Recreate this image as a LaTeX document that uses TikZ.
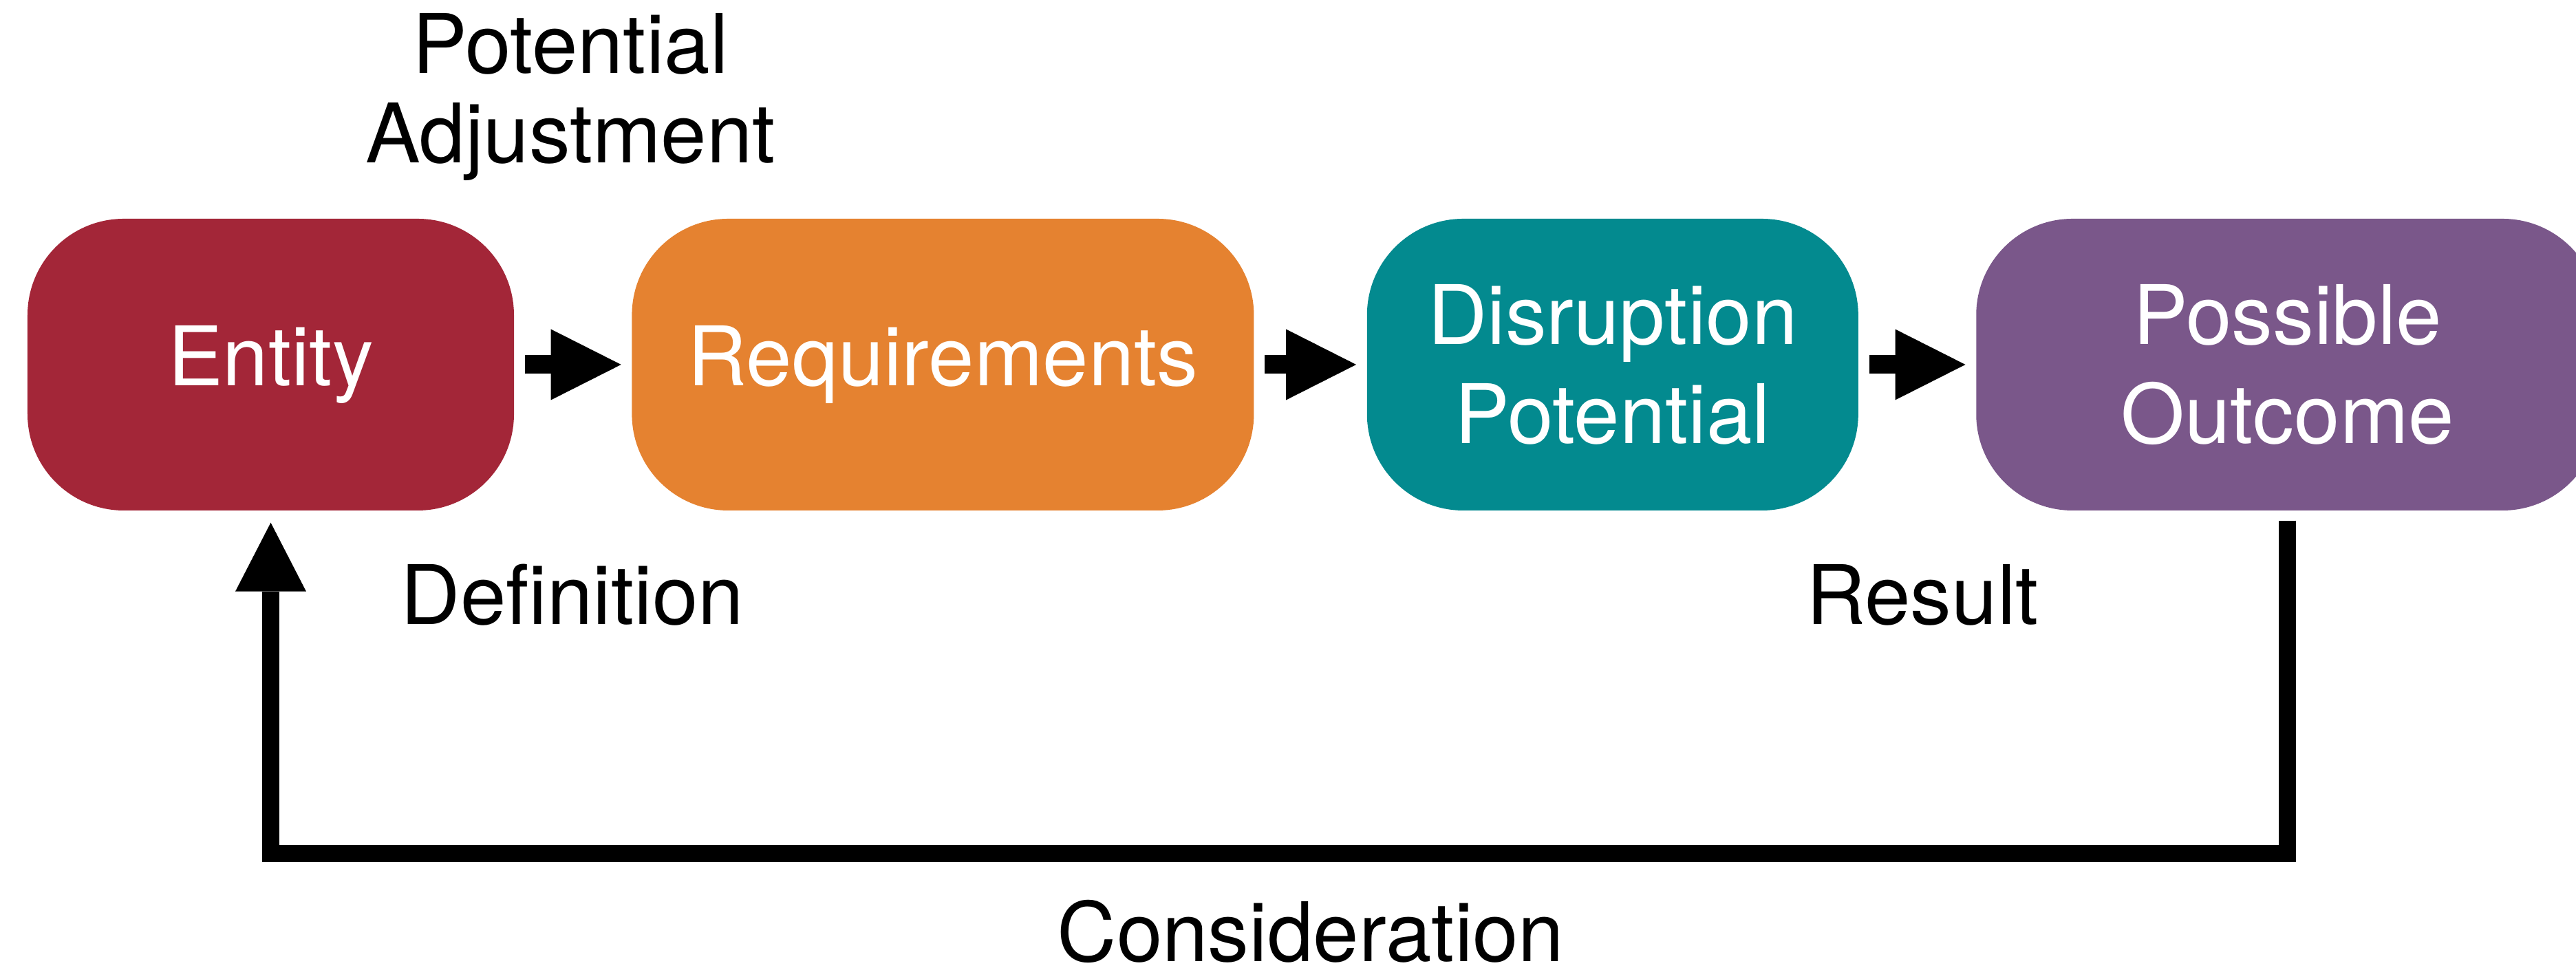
\documentclass[tikz,border=0pt]{standalone}
\usepackage{fontspec}
\setmainfont{TeX Gyre Heros}
\usetikzlibrary{arrows.meta}
\usetikzlibrary{positioning}
\tikzset{box/.style = {rounded corners = 1.4cm, inner sep = 0, minimum height = 4.24cm,
                       text = white, align = center, font = \fontsize{34}{41}\selectfont}}
\tikzset{flow/.style = {line width = 0.27cm, shorten <= 0.15cm, shorten >= 0.15cm,
                        -{Triangle[length = 1.02cm, width = 1.03cm, line width = 0pt]}}}
\tikzset{back/.style = {line width = 0.25cm, line join = miter, shorten <= 0.14cm, shorten >= 0.17cm,
                        -{Triangle[length = 1cm, width = 1.03cm, line width = 0pt]}}}
\tikzset{lbl/.style = {align = center, font = \fontsize{34}{37}\selectfont}}
\definecolor{mred}{rgb}{0.64, 0.15, 0.22}
\definecolor{morange}{rgb}{0.90, 0.51, 0.19}
\definecolor{mteal}{rgb}{0.01, 0.54, 0.56}
\definecolor{mpurple}{rgb}{0.48, 0.34, 0.54}

\begin{document}
\begin{tikzpicture}
  \useasboundingbox (0, 0) rectangle (37.44, 14.07);

  \node [box, fill = mred, minimum width = 7.07cm] (ent) at (3.935, 8.77) {Entity};
  \node [box, fill = morange, minimum width = 9.04cm, right = 1.7cm of ent] (req) {Requirements};
  \node [box, fill = mteal, minimum width = 7.14cm, right = 1.63cm of req] (dis) {Disruption\\Potential};
  \node [box, fill = mpurple, minimum width = 9.05cm, right = 1.7cm of dis] (out) {Possible\\Outcome};

  \draw [flow] (ent.east) -- (req.west);
  \draw [flow] (req.east) -- (dis.west);
  \draw [flow] (dis.east) -- (out.west);

  \draw [back] (out.south) -- ++(0, -4.98) -| (ent.south);

  \node [lbl, anchor = base] (adj) at (8.29, 11.70) {Potential\\Adjustment};
  \node [lbl, anchor = base] (def) at (8.32, 4.99) {Definition};
  \node [lbl, anchor = base] (res) at (27.94, 4.99) {Result};
  \node [lbl, anchor = base] (con) at (19.05, 0.09) {Consideration};
\end{tikzpicture}
\end{document}
